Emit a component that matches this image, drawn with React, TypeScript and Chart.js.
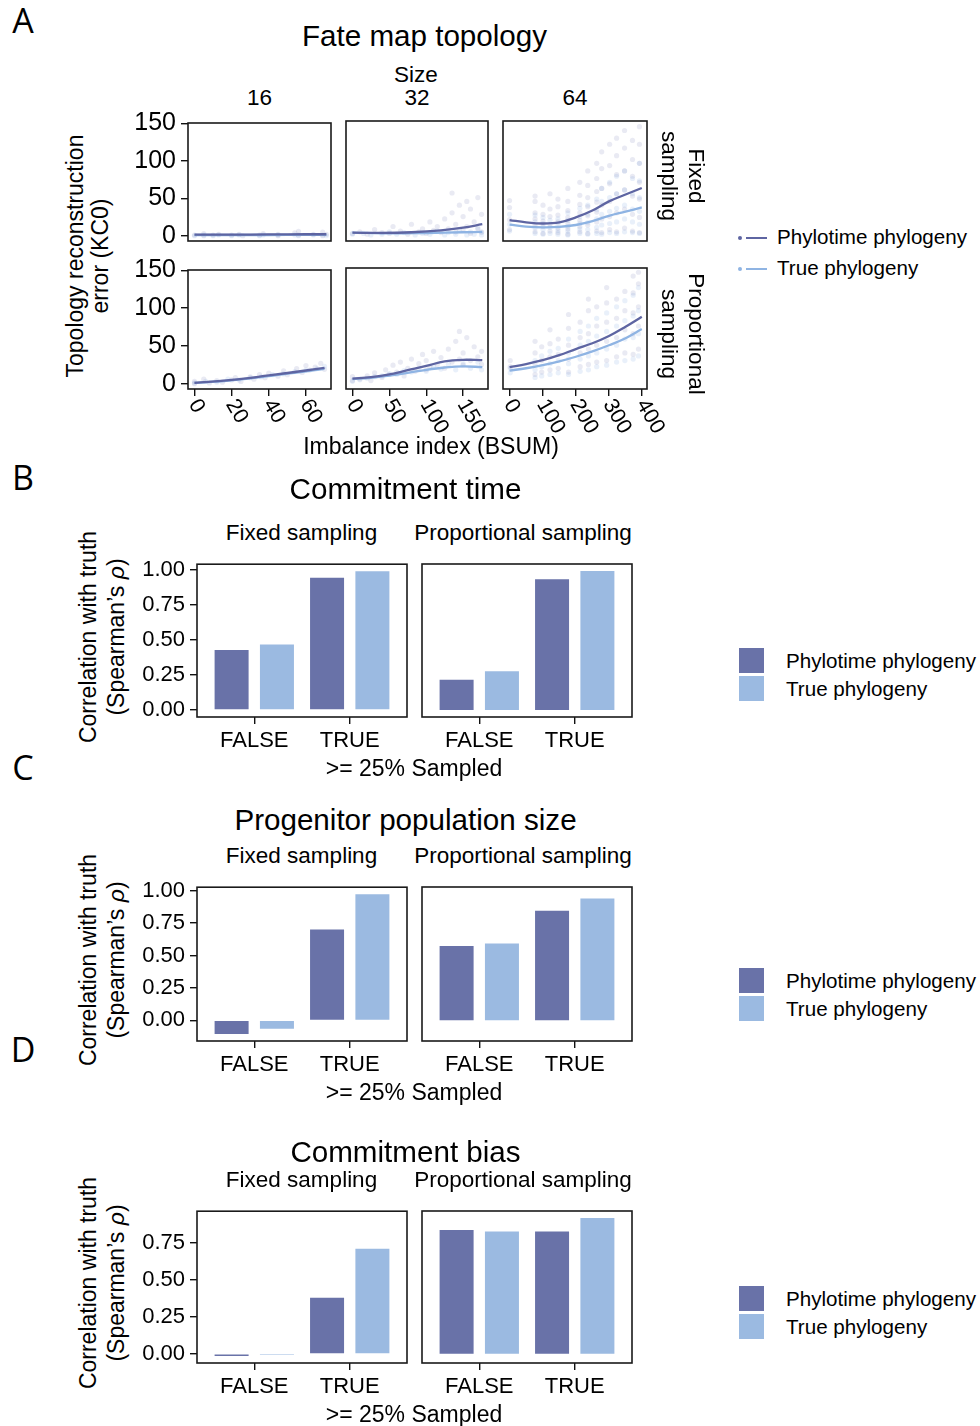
import React, { useEffect, useRef } from "react";
import { Chart, registerables } from "chart.js";
Chart.register(...registerables);

const FONT = '"Liberation Sans", Arial, Helvetica, sans-serif';
const LETTER_FONT = '"Open Sans", "Liberation Sans", sans-serif';

const DARK = "#6972A8";
const LIGHT = "#9BBAE1";
const DARK_LINE = "#5E65A2";
const LIGHT_LINE = "#8FB4E3";
const DARK_PT = "rgba(98,108,168,0.14)";
const LIGHT_PT = "rgba(140,176,226,0.19)";

// ---------------- Panel A data ----------------
const sizeLabels = ["16", "32", "64"];
const xTicks16 = [0, 20, 40, 60];
const xTicks32 = [0, 50, 100, 150];
const xTicks64 = [0, 100, 200, 300, 400];
const yTicksA = [0, 50, 100, 150];

// Fixed sampling, size 16
const fixed16Phylo = [[0,1],[5,3],[5,0],[10,1],[13,2],[20,1],[24,2],[26,0],[35,1],[37,3],[45,0],[45,2],[54,4],[56,6],[56,1],[64,2],[69,5],[69,0],[71,2]];
const fixed16True = [[0,0],[5,1],[10,0],[13,1],[20,0],[24,1],[35,0],[37,1],[45,1],[54,1],[56,0],[64,1],[69,1],[71,0]];
const fixed16FitPhylo = [[0,1.5],[20,1.5],[40,1.8],[60,2],[71,2]];
const fixed16FitTrue = [[0,1],[20,1],[40,1],[60,1.2],[71,1.2]];

// Fixed sampling, size 32
const fixed32Phylo = [[0,3],[10,5],[20,2],[30,8],[40,4],[50,3],[55,12],[65,6],[75,2],[80,15],[90,5],[95,9],[100,3],[105,18],[110,7],[115,12],[120,4],[125,22],[130,9],[135,30],[140,5],[140,15],[145,40],[150,8],[150,25],[155,12],[160,35],[160,3],[165,18],[170,50],[170,9],[175,28],[175,5],[135,56],[155,45]];
const fixed32True = [[0,2],[15,3],[25,1],[40,2],[50,5],[60,2],[70,4],[85,1],[95,3],[105,2],[115,6],[125,1],[130,4],[140,2],[145,8],[155,1],[160,5],[165,2],[170,10],[175,1],[175,4]];
const fixed32FitPhylo = [[0,4],[40,3.6],[80,4.5],[120,7],[150,10.5],[176,15]];
const fixed32FitTrue = [[0,4],[50,3],[100,3.5],[150,4.5],[176,5]];

// Fixed sampling, size 64
const fixed64Phylo = [[0,8],[0,21],[0,37],[0,46],[77,5],[77,14],[77,22],[77,30],[77,45],[77,52],[101,3],[101,12],[101,19],[101,28],[101,40],[122,6],[122,15],[122,25],[122,35],[122,55],[146,4],[146,10],[146,18],[146,27],[146,38],[146,48],[176,2],[176,9],[176,16],[176,24],[176,33],[176,45],[176,62],[212,5],[212,12],[212,20],[212,30],[212,41],[212,53],[212,70],[236,3],[236,14],[236,26],[236,38],[236,50],[236,66],[236,85],[263,6],[263,18],[263,31],[263,44],[263,58],[263,75],[263,95],[278,4],[278,22],[278,40],[278,62],[278,88],[278,110],[302,8],[302,25],[302,45],[302,68],[302,92],[302,120],[323,5],[323,30],[323,55],[323,80],[323,105],[323,128],[347,10],[347,35],[347,60],[347,85],[347,115],[347,138],[371,6],[371,28],[371,52],[371,78],[371,100],[371,125],[392,4],[392,24],[392,48],[392,70],[392,95],[392,120],[392,143]];
const fixed64True = [[0,6],[0,15],[0,28],[77,3],[77,10],[77,18],[77,27],[101,2],[101,8],[101,16],[101,24],[122,3],[122,11],[122,20],[146,2],[146,7],[146,14],[146,22],[176,1],[176,6],[176,12],[176,20],[176,30],[212,3],[212,9],[212,16],[212,25],[212,36],[236,2],[236,8],[236,17],[236,28],[236,40],[263,3],[263,11],[263,22],[263,34],[263,48],[278,2],[278,14],[278,28],[278,45],[278,62],[302,4],[302,16],[302,32],[302,50],[302,70],[323,3],[323,18],[323,36],[323,55],[323,78],[347,5],[347,22],[347,40],[347,60],[347,85],[371,4],[371,18],[371,35],[371,55],[371,75],[392,3],[392,15],[392,32],[392,50],[392,72],[392,95]];
const fixed64FitPhylo = [[0,20.5],[50,17.5],[100,16],[150,17.5],[200,24],[250,33],[300,45],[350,54],[399,62.5]];
const fixed64FitTrue = [[0,14.5],[50,12],[100,11],[150,11.5],[200,14],[250,19],[300,26],[350,31.5],[399,37]];

// Proportional sampling, size 16
const prop16Phylo = [[0,0],[0,3],[5,6],[8,1],[12,4],[15,2],[20,5],[22,8],[25,3],[30,9],[32,6],[35,12],[38,8],[40,14],[45,10],[48,17],[50,12],[55,20],[58,15],[60,24],[62,18],[65,22],[68,27],[70,19]];
const prop16True = [[0,1],[6,3],[12,2],[18,6],[24,5],[30,8],[36,9],[42,12],[48,13],[54,16],[60,18],[66,20],[70,23]];
const prop16FitPhylo = [[0,1],[20,5],[40,11],[60,17.5],[70,21]];
const prop16FitTrue = [[0,1],[20,4.5],[40,10],[60,16.5],[70,19.5]];

// Proportional sampling, size 32
const prop32Phylo = [[0,4],[0,9],[10,6],[20,10],[25,4],[30,14],[40,8],[45,18],[50,12],[55,24],[60,15],[65,28],[70,10],[75,20],[80,32],[85,16],[90,26],[95,38],[100,18],[100,30],[105,22],[110,42],[115,25],[120,34],[125,20],[130,45],[135,28],[140,55],[145,32],[150,24],[150,40],[155,60],[160,30],[165,48],[170,35],[175,25],[175,42],[145,68]];
const prop32True = [[0,3],[10,5],[20,7],[30,9],[40,10],[50,13],[60,12],[70,17],[80,15],[90,20],[100,16],[110,22],[120,19],[130,25],[140,18],[150,26],[160,20],[170,28],[175,18]];
const prop32FitPhylo = [[0,6.5],[25,8.5],[50,12],[75,17.5],[100,23],[125,29],[150,31],[176,30.5]];
const prop32FitTrue = [[0,6],[25,7.5],[50,10.5],[75,14],[100,18],[125,21],[150,22.5],[176,21.5]];

// Proportional sampling, size 64
const prop64Phylo = [[2,22],[2,30],[77,12],[77,25],[77,40],[77,55],[97,15],[97,30],[97,48],[122,18],[122,35],[122,52],[122,70],[147,20],[147,38],[147,58],[178,15],[178,32],[178,50],[178,72],[178,90],[213,22],[213,40],[213,60],[213,80],[238,25],[238,45],[238,65],[238,95],[238,110],[263,28],[263,50],[263,75],[263,100],[293,30],[293,55],[293,80],[293,105],[293,125],[323,35],[323,60],[323,85],[323,110],[348,40],[348,70],[348,95],[348,120],[373,38],[373,65],[373,92],[373,118],[373,140],[389,45],[389,75],[389,100],[389,130],[389,145]];
const prop64True = [[2,14],[2,20],[77,8],[77,18],[77,30],[97,10],[97,22],[97,36],[122,12],[122,26],[122,42],[147,14],[147,30],[147,46],[178,12],[178,26],[178,40],[178,58],[213,16],[213,32],[213,50],[213,68],[238,18],[238,36],[238,55],[238,75],[263,22],[263,40],[263,62],[263,85],[293,24],[293,45],[293,68],[293,92],[323,28],[323,50],[323,75],[323,100],[348,30],[348,58],[348,82],[348,108],[373,32],[373,60],[373,88],[373,115],[389,36],[389,65],[389,95],[389,125]];
const prop64FitPhylo = [[0,21.5],[50,25.5],[100,30.5],[150,37],[200,45],[250,52.5],[300,62],[350,74],[399,87]];
const prop64FitTrue = [[0,17],[50,20],[100,24],[150,29],[200,35],[250,42],[300,50],[350,59],[399,71]];

// ---------------- Bar panels data ----------------
const sampledLabels = ["FALSE", "TRUE"];
const corrTicks = [0, 0.25, 0.5, 0.75, 1];
const corrTicksBias = [0, 0.25, 0.5, 0.75];

const timeFixedPhylo = [0.428, 0.941];
const timeFixedTrue = [0.466, 0.988];
const timePropPhylo = [0.216, 0.929];
const timePropTrue = [0.275, 0.988];

const sizeFixedPhylo = [-0.105, 0.70];
const sizeFixedTrue = [-0.064, 0.972];
const sizePropPhylo = [0.572, 0.844];
const sizePropTrue = [0.592, 0.938];

const biasFixedPhylo = [-0.015, 0.378];
const biasFixedTrue = [-0.008, 0.708];
const biasPropPhylo = [0.832, 0.823];
const biasPropTrue = [0.823, 0.914];

// ---------------- helpers ----------------
const PAD = { l: 75, t: 18, r: 26, b: 66 };
const toPts = (a: number[][]) => a.map(([x, y]) => ({ x, y }));

function ggLimits(values: number[]): [number, number] {
  const lo = Math.min(0, ...values);
  const hi = Math.max(0, ...values);
  const e = (hi - lo) * 0.05;
  return [lo - e, hi + e];
}

const tickGrid = {
  display: true,
  drawOnChartArea: false,
  drawTicks: true,
  offset: false,
  tickLength: 7,
  color: "#111",
  lineWidth: 1.4,
};

const boxPlugin = {
  id: "panelBox",
  afterDraw(chart: any) {
    const { ctx, chartArea: a } = chart;
    ctx.save();
    ctx.strokeStyle = "#1a1a1a";
    ctx.lineWidth = 1.6;
    ctx.strokeRect(a.left, a.top, a.right - a.left, a.bottom - a.top);
    ctx.restore();
  },
};

function rotatedXLabels(values: number[]) {
  return {
    id: "rotX",
    afterDraw(chart: any) {
      const { ctx, chartArea: a } = chart;
      const sx = chart.scales.x;
      ctx.save();
      ctx.fillStyle = "#000";
      ctx.font = `21.5px ${FONT}`;
      ctx.textAlign = "left";
      ctx.textBaseline = "middle";
      values.forEach((v) => {
        const px = sx.getPixelForValue(v);
        ctx.save();
        ctx.translate(px - 1, a.bottom + 12);
        ctx.rotate(Math.PI / 3);
        ctx.fillText(String(v), 0, 0);
        ctx.restore();
      });
      ctx.restore();
    },
  };
}

// The axes always reserve their (forced) sizes, so the plot box lands at the same place
const layoutPadding = { left: 0, right: PAD.r, top: PAD.t, bottom: 0 };

const yMinA = -7;
const yMaxA = 150.5;

function scatterConfig(o: any) {
  return {
    type: "scatter",
    data: {
      datasets: [
        { label: "Phylotime phylogeny", data: toPts(o.fitPhylo), showLine: true, borderColor: DARK_LINE, borderWidth: 2.3, pointRadius: 0, tension: 0.4, fill: false },
        { label: "True phylogeny", data: toPts(o.fitTrue), showLine: true, borderColor: LIGHT_LINE, borderWidth: 2.3, pointRadius: 0, tension: 0.4, fill: false },
        { label: "Phylotime phylogeny points", data: toPts(o.ptsPhylo), pointRadius: 2.6, backgroundColor: DARK_PT, borderWidth: 0 },
        { label: "True phylogeny points", data: toPts(o.ptsTrue), pointRadius: 2.6, backgroundColor: LIGHT_PT, borderWidth: 0 },
      ],
    },
    options: {
      responsive: false,
      animation: false,
      events: [],
      layout: { padding: layoutPadding },
      plugins: { legend: { display: false }, tooltip: { enabled: false } },
      scales: {
        x: {
          type: "linear",
          min: o.xMin,
          max: o.xMax,
          offset: false,
          display: true,
          afterBuildTicks: (s: any) => { s.ticks = o.xTicks.map((v: number) => ({ value: v })); },
          afterFit: (s: any) => { s.height = PAD.b; },
          ticks: { display: false, autoSkip: false },
          grid: { ...tickGrid, display: o.showX },
          border: { display: false },
        },
        y: {
          type: "linear",
          min: yMinA,
          max: yMaxA,
          display: true,
          afterBuildTicks: (s: any) => { s.ticks = yTicksA.map((v) => ({ value: v })); },
          afterFit: (s: any) => { s.width = PAD.l; },
          ticks: { display: o.showY, autoSkip: false, color: "#000", padding: 5, font: { family: FONT, size: 25 }, callback: (v: any) => String(v) },
          grid: { ...tickGrid, display: o.showY },
          border: { display: false },
        },
      },
    },
    plugins: [boxPlugin, ...(o.showX ? [rotatedXLabels(o.xTicks)] : [])],
  };
}

function barConfig(o: any) {
  return {
    type: "bar",
    data: {
      datasets: [
        { label: "Phylotime phylogeny", data: o.phylo.map((v: number, i: number) => ({ x: i + 1, y: v })), backgroundColor: DARK, borderWidth: 0, categoryPercentage: 0.95, barPercentage: 0.75 },
        { label: "True phylogeny", data: o.truth.map((v: number, i: number) => ({ x: i + 1, y: v })), backgroundColor: LIGHT, borderWidth: 0, categoryPercentage: 0.95, barPercentage: 0.75 },
      ],
    },
    options: {
      responsive: false,
      animation: false,
      events: [],
      layout: { padding: layoutPadding },
      plugins: { legend: { display: false }, tooltip: { enabled: false } },
      scales: {
        x: {
          type: "linear",
          min: 0.4,
          max: 2.6,
          offset: false,
          display: true,
          afterBuildTicks: (s: any) => { s.ticks = sampledLabels.map((_, i) => ({ value: i + 1 })); },
          afterFit: (s: any) => { s.height = PAD.b; },
          ticks: { autoSkip: false, maxRotation: 0, minRotation: 0, color: "#000", padding: 4, font: { family: FONT, size: 22 }, callback: (v: any) => sampledLabels[Math.round(v) - 1] },
          grid: tickGrid,
          border: { display: false },
        },
        y: {
          type: "linear",
          min: o.yMin,
          max: o.yMax,
          display: true,
          afterBuildTicks: (s: any) => { s.ticks = o.yTicks.map((v: number) => ({ value: v })); },
          afterFit: (s: any) => { s.width = PAD.l; },
          ticks: { display: o.showY, autoSkip: false, color: "#000", padding: 5, font: { family: FONT, size: 22 }, callback: (v: any) => Number(v).toFixed(2) },
          grid: { ...tickGrid, display: o.showY },
          border: { display: false },
        },
      },
    },
    plugins: [boxPlugin],
  };
}

function Facet({ L, T, W, H, config }: { L: number; T: number; W: number; H: number; config: any }) {
  const ref = useRef<HTMLCanvasElement>(null);
  useEffect(() => {
    const chart = new Chart(ref.current as HTMLCanvasElement, config);
    return () => chart.destroy();
  }, []);
  const w = W + PAD.l + PAD.r;
  const h = H + PAD.t + PAD.b;
  return (
    <canvas
      ref={ref}
      width={w}
      height={h}
      style={{ position: "absolute", left: L - PAD.l, top: T - PAD.t, width: w, height: h }}
    />
  );
}

function Txt(props: { x: number; y: number; size: number; children: any; rotate?: number; align?: string; lh?: number; family?: string }) {
  const { x, y, size, children, rotate = 0, align = "center", lh = 1.15, family = FONT } = props;
  const tx = align === "center" ? "-50%" : align === "left" ? "0%" : "-100%";
  return (
    <div
      style={{
        position: "absolute",
        left: x,
        top: y,
        transform: `translate(${tx}, -50%) rotate(${rotate}deg)`,
        fontFamily: family,
        fontSize: size,
        lineHeight: lh > 3 ? `${lh}px` : lh,
        whiteSpace: "nowrap",
        textAlign: "center",
        color: "#000",
      }}
    >
      {children}
    </div>
  );
}

function BarLegend({ top }: { top: number }) {
  return (
    <>
      <div style={{ position: "absolute", left: 739, top, width: 25, height: 25, background: DARK }} />
      <div style={{ position: "absolute", left: 739, top: top + 28, width: 25, height: 25, background: LIGHT }} />
      <Txt x={786} y={top + 12.5} size={20.6} align="left">Phylotime phylogeny</Txt>
      <Txt x={786} y={top + 40.5} size={20.6} align="left">True phylogeny</Txt>
    </>
  );
}

function BarPanel(props: { letter: string; letterY: number; title: string; titleY: number; T: number; H: number; fixedPhylo: number[]; fixedTrue: number[]; propPhylo: number[]; propTrue: number[]; yTicks: number[]; legendTop: number }) {
  const p = props;
  const [yMin, yMax] = ggLimits([...p.fixedPhylo, ...p.fixedTrue, ...p.propPhylo, ...p.propTrue]);
  const mid = p.T + p.H / 2;
  return (
    <>
      <Txt x={23} y={p.letterY} size={34} family={LETTER_FONT}>{p.letter}</Txt>
      <Txt x={405.5} y={p.titleY} size={29.6}>{p.title}</Txt>
      <Txt x={301.5} y={p.T - 31} size={22.5}>Fixed sampling</Txt>
      <Txt x={523} y={p.T - 31} size={22.5}>Proportional sampling</Txt>
      <Txt x={102} y={mid - 4} size={23} rotate={-90} lh={28}>
        Correlation with truth
        <br />
        (Spearman’s <i>ρ</i>)
      </Txt>
      <Facet L={197} T={p.T} W={210} H={p.H} config={barConfig({ phylo: p.fixedPhylo, truth: p.fixedTrue, yMin, yMax, yTicks: p.yTicks, showY: true })} />
      <Facet L={422} T={p.T} W={210} H={p.H} config={barConfig({ phylo: p.propPhylo, truth: p.propTrue, yMin, yMax, yTicks: p.yTicks, showY: false })} />
      <Txt x={414} y={p.T + p.H + 51} size={23}>&gt;= 25% Sampled</Txt>
      <BarLegend top={p.legendTop} />
    </>
  );
}

export default function App() {
  const cols = [
    { L: 188, W: 143, xMin: -3.5, xMax: 73.5, xTicks: xTicks16 },
    { L: 346, W: 142, xMin: -8.75, xMax: 183.75, xTicks: xTicks32 },
    { L: 503, W: 144, xMin: -19.75, xMax: 414.75, xTicks: xTicks64 },
  ];
  const rows = [
    { T: 121, H: 120, sets: [
      [fixed16Phylo, fixed16True, fixed16FitPhylo, fixed16FitTrue],
      [fixed32Phylo, fixed32True, fixed32FitPhylo, fixed32FitTrue],
      [fixed64Phylo, fixed64True, fixed64FitPhylo, fixed64FitTrue],
    ] },
    { T: 268, H: 121, sets: [
      [prop16Phylo, prop16True, prop16FitPhylo, prop16FitTrue],
      [prop32Phylo, prop32True, prop32FitPhylo, prop32FitTrue],
      [prop64Phylo, prop64True, prop64FitPhylo, prop64FitTrue],
    ] },
  ];

  return (
    <div style={{ position: "absolute", left: 0, top: 0, width: 980, height: 1426, background: "#fff", overflow: "hidden", fontFamily: FONT }}>
      {/* Panel A */}
      <Txt x={23} y={21} size={34} family={LETTER_FONT}>A</Txt>
      <Txt x={424.5} y={36} size={29.6}>Fate map topology</Txt>
      <Txt x={416} y={75} size={22.5}>Size</Txt>
      {cols.map((c, i) => (
        <Txt key={"s" + i} x={c.L + c.W / 2} y={98} size={22.5}>{sizeLabels[i]}</Txt>
      ))}
      <Txt x={88} y={256} size={23} rotate={-90} lh={25}>
        Topology reconstruction
        <br />
        error (KC0)
      </Txt>
      {rows.map((r, ri) =>
        cols.map((c, ci) => {
          const [ptsPhylo, ptsTrue, fitPhylo, fitTrue] = r.sets[ci];
          return (
            <Facet
              key={`a${ri}${ci}`}
              L={c.L}
              T={r.T}
              W={c.W}
              H={r.H}
              config={scatterConfig({ ptsPhylo, ptsTrue, fitPhylo, fitTrue, xMin: c.xMin, xMax: c.xMax, xTicks: c.xTicks, showY: ci === 0, showX: ri === 1 })}
            />
          );
        })
      )}
      <Txt x={683} y={176} size={22.5} rotate={90} lh={27}>
        Fixed
        <br />
        sampling
      </Txt>
      <Txt x={683} y={334} size={22.5} rotate={90} lh={27}>
        Proportional
        <br />
        sampling
      </Txt>
      <Txt x={431} y={446} size={23}>Imbalance index (BSUM)</Txt>
      {/* Panel A legend */}
      <div style={{ position: "absolute", left: 738, top: 236, width: 4, height: 4, borderRadius: 2, background: DARK_LINE }} />
      <div style={{ position: "absolute", left: 746, top: 237, width: 21, height: 2, background: DARK_LINE }} />
      <Txt x={777} y={237} size={20.6} align="left">Phylotime phylogeny</Txt>
      <div style={{ position: "absolute", left: 738, top: 267, width: 4, height: 4, borderRadius: 2, background: LIGHT_LINE }} />
      <div style={{ position: "absolute", left: 746, top: 268, width: 21, height: 2, background: LIGHT_LINE }} />
      <Txt x={777} y={268} size={20.6} align="left">True phylogeny</Txt>

      <BarPanel letter="B" letterY={478} title="Commitment time" titleY={489} T={564} H={153}
        fixedPhylo={timeFixedPhylo} fixedTrue={timeFixedTrue} propPhylo={timePropPhylo} propTrue={timePropTrue}
        yTicks={corrTicks} legendTop={648} />
      <BarPanel letter="C" letterY={768} title="Progenitor population size" titleY={820} T={887} H={154}
        fixedPhylo={sizeFixedPhylo} fixedTrue={sizeFixedTrue} propPhylo={sizePropPhylo} propTrue={sizePropTrue}
        yTicks={corrTicks} legendTop={968} />
      <BarPanel letter="D" letterY={1050} title="Commitment bias" titleY={1152} T={1211} H={152}
        fixedPhylo={biasFixedPhylo} fixedTrue={biasFixedTrue} propPhylo={biasPropPhylo} propTrue={biasPropTrue}
        yTicks={corrTicksBias} legendTop={1286} />
    </div>
  );
}
